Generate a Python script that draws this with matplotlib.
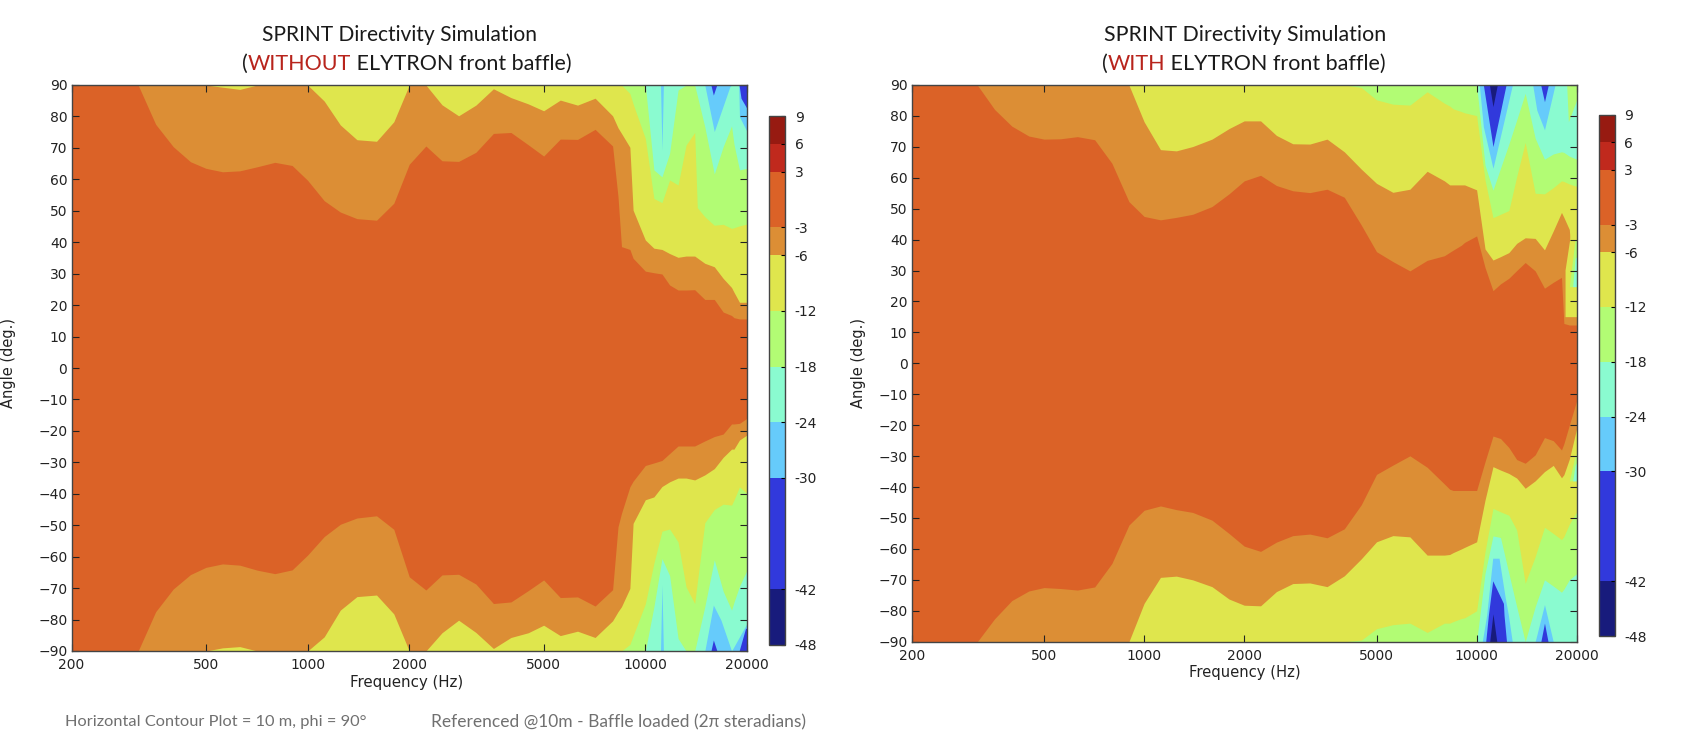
import matplotlib
matplotlib.use("Agg")
import matplotlib.pyplot as plt
from matplotlib.cm import ScalarMappable
from matplotlib.colors import BoundaryNorm, ListedColormap

W, H = 1686, 748

# colour bands (dB)
levels = [-48, -42, -30, -24, -18, -12, -6, -3, 3, 6, 9]
band_colors = ["#181b7c", "#3139dc", "#66cbfb", "#8afbd0", "#b2fc74",
               "#dfe64d", "#dc8e35", "#db6227", "#c0291d", "#971a11"]
c_m3, c_m6, c_m12, c_m18, c_m24, c_m30, c_m42 = band_colors[6], band_colors[5], band_colors[4], band_colors[3], band_colors[2], band_colors[1], band_colors[0]
c_mid = band_colors[7]

freq_tick = [200, 500, 1000, 2000, 5000, 10000, 20000]
angle_tick = list(range(-90, 91, 10))

freq_lo = [200, 224, 250, 280, 315, 355, 400, 450, 500, 560, 630, 710, 800, 900, 1000, 1120, 1250,
           1400, 1600, 1800, 2000, 2240, 2500, 2800, 3150, 3550]
freq_hi = [4000, 4500, 5000, 5600, 6300, 7100, 8000, 8300, 8500, 9000, 9200, 10000, 10600, 11200,
           11800, 12500, 13200, 14000, 15000, 16000, 17000, 18000, 18300, 19000, 20000]
freq = freq_lo + freq_hi

# WITHOUT baffle: angle of each contour, upper half
left_up_m3 = [90, 90, 90, 90, 90, 77.5, 70.4, 65.6, 63.5, 62.4, 62.7, 64, 65.4, 64.4, 59.7, 53.2, 49.6,
              47.5, 47, 52.4, 64.8, 70.6, 65.9, 65.7, 68.6, 74.6,
              74.9, 71, 67.4, 72.8, 72.7, 75.9, 70.6, 54.5, 38.6, 37.7, 34.9, 30.8, 30.3, 29.9,
              26.4, 24.8, 24.8, 24.9, 21.8, 21.8, 17.8, 16.7, 16, 15.6, 15.6]
left_up_m6 = [90, 90, 90, 90, 90, 90, 90, 90, 90, 89.3, 88.6, 90, 90, 90, 90, 84.9, 77.3,
              72.6, 72.1, 78.3, 90, 90, 83.7, 80.2, 83.6, 88.8,
              86, 84, 81.8, 85.2, 83.6, 85.8, 80.2, 76.4, 74.6, 70.2, 50.2, 40.7, 38.1, 37.7,
              36.4, 35.2, 35.6, 35.6, 33.3, 32.2, 28.5, 25.6, 24.1, 20.9, 20.9]
left_up_m12_f = [8500, 9000, 9200, 10000, 10600, 11200, 11800, 12500, 13200, 14000, 14250, 15000, 16000,
                 17000, 18000, 18300, 19000, 20000]
left_up_m12 = [90, 87.3, 84, 73, 53.9, 52.6, 59.8, 58.2, 70.9, 74.9, 51, 48.1, 45.4,
               45.7, 44.4, 44.6, 45.2, 45.8]
left_up_m18 = [90, 90, 90, 90, 90, 90, 90, 90, 90, 90, 90, 90, 63, 60.8,
               68.3, 88.4, 90, 90, 76.7, 61.7, 70.4, 77, 71.2, 63, 63.5]
left_up_m24_f = [11090, 11200, 11310, 15000, 16000, 17800, 18000, 18900, 19000, 20000]
left_up_m24 = [90, 69.3, 90, 90, 75.2, 89.5, 90, 90, 79.9, 75.2]
left_up_m30_f = [15640, 15900, 16270, 18950, 19200, 20000]
left_up_m30 = [90, 86.8, 90, 90, 85.8, 82.5]

# WITHOUT baffle: lower half
left_low_m3 = [-90, -90, -90, -90, -90, -77.5, -70.3, -65.7, -63.4, -62.3, -62.7, -64.3, -65.4, -64.2, -59.5, -53.6, -49.7,
               -47.7, -47, -51.3, -66.4, -70.6, -65.8, -65.6, -68.7, -74.9,
               -74.4, -70.8, -67.4, -73, -72.8, -75.7, -70.5, -50.5, -46.2, -37.8, -36, -31, -30.2, -29.4,
               -27.2, -24.8, -24.8, -24.8, -23.2, -21.8, -21, -17.8, -17.8, -17.6, -16]
left_low_m6 = [-90, -90, -90, -90, -90, -90, -90, -90, -90, -89, -88.6, -90, -90, -90, -90, -85.5, -77,
               -72.7, -72.2, -78.2, -90, -90, -84.2, -80.2, -84.1, -89.2,
               -85.7, -84.2, -81.8, -85.1, -83.7, -85.7, -80.4, -77.5, -75.9, -70.1, -49.4, -41.9, -41, -37.7,
               -36.2, -35, -35, -35.6, -34, -32, -28.4, -25.8, -25.8, -22.9, -21.3]
left_low_m12 = [-90, -90, -90, -90, -90, -90, -90, -90, -90, -87.9, -85.2, -75, -62.1, -51.9,
                -51.2, -55.3, -69.6, -74.9, -49.2, -45, -43.3, -43.6, -42, -37.8, -39.9]
left_low_m18 = [-90, -90, -90, -90, -90, -90, -90, -90, -90, -90, -90, -90, -76, -60.6,
                -66, -86, -90, -90, -75.9, -61, -71, -77, -74.5, -69.4, -64.3]
left_low_m24_f = [11090, 11200, 11310, 15000, 15900, 16750, 18000, 20000]
left_low_m24 = [-90, -69, -90, -90, -75.4, -80.2, -90, -81.2]
left_low_m30_f = [15640, 15900, 16300, 18950, 19800, 20000]
left_low_m30 = [-90, -86.5, -90, -90, -82.8, -82.8]

# WITH baffle: upper half
right_up_m3 = [90, 90, 90, 90, 90, 82.1, 76.7, 73.5, 72.5, 72.6, 73.3, 72.3, 64.7, 52.3, 47.5, 46.4, 47.2,
               48.2, 50.7, 54.8, 59, 60.8, 57.5, 55.8, 55.2, 56.3,
               53.7, 44.7, 36.1, 32.9, 29.9, 33.3, 34.8, 35.9, 36.6, 38.2, 39.1, 41.2, 31, 23.5,
               25.7, 27.5, 30, 32.6, 29.9, 24.3, 26.2, 27.8, 12.9, 12.4, 12.4]
right_up_m6 = [90, 90, 90, 90, 90, 90, 90, 90, 90, 90, 90, 90, 90, 90, 78.1, 69.1, 68.7,
               70.1, 72.5, 75.9, 78.4, 78.4, 73.7, 71, 70.9, 72.5,
               68.4, 62.8, 58.2, 55.3, 56.3, 62.1, 59, 57.7, 57.7, 57.7, 57.7, 56.1, 37, 33.4,
               34.5, 35.8, 38.8, 40.6, 40.4, 36.7, 42.8, 48.8, 47.2, 43.3, 15.1]
right_up_m12 = [90, 89.2, 85.2, 83.8, 83.5, 87.8, 84.1, 83.2, 82.3, 81.4, 81, 80.1, 59.3, 47.1,
                48.2, 49.4, 60.4, 71.4, 55, 54.8, 56.8, 59, 58.8, 58, 57.2]
right_up_m18 = [90, 90, 90, 90, 90, 90, 90, 90, 90, 90, 90, 90, 64.1, 56,
                63.1, 70.9, 78.7, 87.3, 72.8, 66, 67.7, 68.4, 68.2, 67, 66]
right_up_m24_f = [10190, 10480, 11200, 12810, 14750, 15170, 16000, 17210]
right_up_m24 = [90, 76.5, 63.1, 90, 90, 81.9, 75.5, 90]
right_up_m30_f = [10480, 11200, 12260, 15590, 16000, 16430]
right_up_m30 = [90, 70.1, 90, 90, 84.6, 90]
right_up_m42_f = [10930, 11200, 11540]
right_up_m42 = [90, 83, 90]
# small pockets near 20 kHz that do not fall monotonically with angle
right_up_yel_f = [18450, 19190, 20000]
right_up_yel_lo = [15.1, 15.1, 15.1]
right_up_yel_hi = [30.2, 42.3, 43.1]
right_up_grn_f = [19000, 19770, 20000]
right_up_grn_lo = [24.8, 24.8, 24.8]
right_up_grn_hi = [24.8, 39.9, 39.9]
right_up_aqu_f = [19450, 19770, 20000]
right_up_aqu_lo = [24.8, 24.8, 24.8]
right_up_aqu_hi = [24.8, 34, 34.5]
right_up_wedge_f = [18660, 18880, 20000]
right_up_wedge_lo = [90, 78.1, 85.2]

# WITH baffle: lower half
right_low_m3 = [-90, -90, -90, -90, -90, -82.6, -76.7, -73.6, -72.5, -72.8, -73.3, -72.3, -64.7, -52.3, -47.5, -46.1, -47.3,
                -48.2, -50.7, -55, -59.1, -60.8, -57.8, -55.7, -55.2, -56.4,
                -53.5, -45.7, -35.9, -32.9, -29.9, -33.6, -39, -40.7, -41.1, -41.1, -41.1, -41.1, -31.8, -23.5,
                -24.3, -27.2, -31.1, -32.3, -29.6, -24, -25, -28, -26, -20, -12]
right_low_m6 = [-90, -90, -90, -90, -90, -90, -90, -90, -90, -90, -90, -90, -90, -90, -77.6, -69.2, -68.8,
                -70, -72.2, -76.2, -78.2, -78.4, -73.8, -71.2, -71, -72.2,
                -68.7, -63.2, -57.7, -55.7, -56.1, -62, -62, -61.8, -61.2, -60, -59.5, -57.7, -44.2, -33.4,
                -34.5, -35.6, -37.1, -40.4, -38, -35, -33, -37, -36, -31, -21]
right_low_m12 = [-90, -89.5, -85.8, -84.5, -84, -87, -84, -84, -83.5, -82.5, -82.3, -80, -60.9, -46.9,
                 -48, -49.1, -53.9, -71.1, -62.5, -53, -55, -57, -56, -52, -48]
right_low_m18 = [-90, -90, -90, -90, -90, -90, -90, -90, -90, -90, -90, -90, -67.9, -55.8,
                 -56.3, -67.9, -78.7, -90, -78.7, -70, -72, -74, -73, -70, -68]
right_low_m24_f = [10400, 10720, 11180, 11680, 12180, 12460, 12800, 15000, 16000, 17000]
right_low_m24 = [-90, -81.4, -63, -63, -75.5, -81.4, -90, -90, -78, -90]
right_low_m30_f = [10650, 10850, 11180, 12040, 12090, 12300, 15600, 16000, 16400]
right_low_m30 = [-90, -81.4, -70.3, -77.6, -81.4, -90, -90, -84, -90]
right_low_m42_f = [10950, 11200, 11500]
right_low_m42 = [-90, -81, -90]
right_low_grn_f = [19000, 19770, 20000]
right_low_grn_lo = [-38, -38, -38]
right_low_grn_hi = [-38, -30, -29]
right_low_aqu_f = [19450, 19770, 20000]
right_low_aqu_lo = [-38, -38, -38]
right_low_aqu_hi = [-38, -33, -32]


def box(x0, y0, x1, y1):
    return [x0 / W, 1 - y1 / H, (x1 - x0) / W, (y1 - y0) / H]


def band(ax, f, a, edge, color):
    ax.fill_between(f, a, [edge] * len(f), color=color, lw=0)


def setup(ax):
    ax.set_xscale("log")
    ax.set_xlim(200, 20000)
    ax.set_ylim(-90, 90)
    ax.set_xticks(freq_tick)
    ax.set_xticklabels([str(t) for t in freq_tick])
    ax.minorticks_off()
    ax.set_yticks(angle_tick)
    ax.tick_params(direction="in", top=True, right=True, length=5, width=0.8, labelsize=10,
                   color="#222222", labelcolor="#222222")
    ax.tick_params(axis="x", pad=5)
    ax.tick_params(axis="y", pad=3)
    for s in ax.spines.values():
        s.set_color("#444444")
        s.set_linewidth(1.0)


def colorbar(box_px):
    cax = fig.add_axes(box(*box_px))
    norm = BoundaryNorm(levels, len(band_colors))
    sm = ScalarMappable(norm=norm, cmap=ListedColormap(band_colors))
    cb = fig.colorbar(sm, cax=cax, spacing="proportional", ticks=levels, drawedges=False)
    cb.ax.set_yticklabels([str(v) for v in levels])
    cb.ax.minorticks_off()
    cb.ax.tick_params(direction="in", length=3, width=0.8, labelsize=10, labelcolor="#222222", pad=7)
    cb.outline.set_edgecolor("#444444")
    cb.outline.set_linewidth(1.0)


def title_line(cx, y, parts, size=15.5):
    rend = fig.canvas.get_renderer()
    items = [fig.text(0, 1 - y / H, t, color=c, family="Lato", fontsize=size, va="center") for t, c in parts]
    widths = [it.get_window_extent(rend).width for it in items]
    x = cx - sum(widths) / 2
    for it, w in zip(items, widths):
        it.set_x(x / W)
        x += w


fig = plt.figure(figsize=(W / 100, H / 100), dpi=100)

# left panel
ax1 = fig.add_axes(box(71.5, 85, 747, 651))
setup(ax1)
ax1.fill_between(freq, -90, 90, color=c_mid, lw=0)
band(ax1, freq, left_up_m3, 90, c_m3)
band(ax1, freq, left_up_m6, 90, c_m6)
band(ax1, left_up_m12_f, left_up_m12, 90, c_m12)
band(ax1, freq_hi, left_up_m18, 90, c_m18)
band(ax1, left_up_m24_f, left_up_m24, 90, c_m24)
band(ax1, left_up_m30_f, left_up_m30, 90, c_m30)
band(ax1, freq, left_low_m3, -90, c_m3)
band(ax1, freq, left_low_m6, -90, c_m6)
band(ax1, freq_hi, left_low_m12, -90, c_m12)
band(ax1, freq_hi, left_low_m18, -90, c_m18)
band(ax1, left_low_m24_f, left_low_m24, -90, c_m24)
band(ax1, left_low_m30_f, left_low_m30, -90, c_m30)

# right panel
ax2 = fig.add_axes(box(911.7, 85, 1576.7, 641.7))
setup(ax2)
ax2.fill_between(freq, -90, 90, color=c_mid, lw=0)
band(ax2, freq, right_up_m3, 90, c_m3)
band(ax2, freq, right_up_m6, 90, c_m6)
band(ax2, freq_hi, right_up_m12, 90, c_m12)
band(ax2, freq_hi, right_up_m18, 90, c_m18)
band(ax2, right_up_m24_f, right_up_m24, 90, c_m24)
band(ax2, right_up_m30_f, right_up_m30, 90, c_m30)
band(ax2, right_up_m42_f, right_up_m42, 90, c_m42)
band(ax2, freq, right_low_m3, -90, c_m3)
band(ax2, freq, right_low_m6, -90, c_m6)
band(ax2, freq_hi, right_low_m12, -90, c_m12)
band(ax2, freq_hi, right_low_m18, -90, c_m18)
band(ax2, right_low_m24_f, right_low_m24, -90, c_m24)
band(ax2, right_low_m30_f, right_low_m30, -90, c_m30)
band(ax2, right_low_m42_f, right_low_m42, -90, c_m42)
ax2.fill_between(right_up_yel_f, right_up_yel_lo, right_up_yel_hi, color=c_m6, lw=0)
ax2.fill_between(right_up_grn_f, right_up_grn_lo, right_up_grn_hi, color=c_m12, lw=0)
ax2.fill_between(right_up_aqu_f, right_up_aqu_lo, right_up_aqu_hi, color=c_m18, lw=0)
band(ax2, right_up_wedge_f, right_up_wedge_lo, 90, c_m12)
ax2.fill_between(right_low_grn_f, right_low_grn_lo, right_low_grn_hi, color=c_m12, lw=0)
ax2.fill_between(right_low_aqu_f, right_low_aqu_lo, right_low_aqu_hi, color=c_m18, lw=0)

colorbar((769.3, 116, 785, 645))
colorbar((1599, 115, 1614.7, 636))

# axis names
fig.text(407 / W, 1 - 682 / H, "Frequency (Hz)", ha="center", va="center", fontsize=10.8, color="#222222")
fig.text(1245 / W, 1 - 672 / H, "Frequency (Hz)", ha="center", va="center", fontsize=10.6, color="#222222")
fig.text(9 / W, 1 - 363 / H, "Angle (deg.)", rotation=90, ha="center", va="center", fontsize=10.5, color="#222222")
fig.text(858 / W, 1 - 363 / H, "Angle (deg.)", rotation=90, ha="center", va="center", fontsize=10.5, color="#222222")

# titles, the coloured word is its own text
black = "#1a1a1a"
red = "#b8241c"
title_line(400, 35, [("SPRINT Directivity Simulation", black)], size=15.1)
title_line(407, 64, [("(", black), ("WITHOUT", red), (" ELYTRON front baffle)", black)])
title_line(1245, 35, [("SPRINT Directivity Simulation", black)], size=15.4)
title_line(1244, 64, [("(", black), ("WITH", red), (" ELYTRON front baffle)", black)])

# footer
fig.text(65 / W, 1 - 722 / H, "Horizontal Contour Plot = 10 m, phi = 90°", family="Lato", fontsize=11.8,
         color="#707070", va="center")
fig.text(431 / W, 1 - 722 / H, "Referenced @10m - Baffle loaded (2π steradians)", family="Lato", fontsize=12.5,
         color="#707070", va="center")

fig.savefig("out.png", dpi=100)
